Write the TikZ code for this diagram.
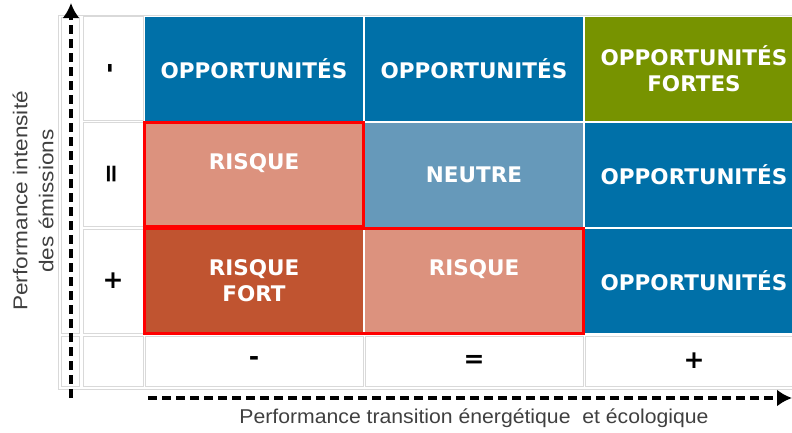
\documentclass[tikz,border=0pt]{standalone}
\usepackage{fontspec}
\setmainfont{Liberation Sans}
\newfontfamily\cellfont{DejaVu Sans}
\usetikzlibrary{arrows.meta}

\definecolor{bleuopp}{RGB}{0,112,168}
\definecolor{vertopp}{RGB}{119,147,0}
\definecolor{saumon}{RGB}{220,146,126}
\definecolor{rouille}{RGB}{192,84,48}
\definecolor{neutre}{RGB}{102,153,186}
\definecolor{grisaxe}{RGB}{64,64,64}

\begin{document}
\begin{tikzpicture}[x=1pt,y=-1pt,
  case/.style={minimum width=218pt, minimum height=104pt, inner sep=0pt, text=white,
    align=center, font=\cellfont\bfseries\fontsize{21.5}{26}\selectfont},
  grille/.style={draw=gray!30, line width=0.8pt, fill=white, inner sep=0pt,
    font=\cellfont\bfseries\fontsize{25}{26}\selectfont},
  axe/.style={line width=3.6pt, draw=black, dash pattern=on 9pt off 5pt,
    -{Latex[length=15pt,width=17pt]}},
  cadre/.style={draw=red, line width=3pt}]

\useasboundingbox (0,0) rectangle (792,432);
\clip (0,0) rectangle (792,432);

\draw[gray!30, line width=0.8pt] (58,15) rectangle (800,389); % cadre du tableau

% colonne de l'axe et libelles des lignes
\node[grille, minimum width=18pt, minimum height=316pt] (colaxe) at (70,175) {};
\node[grille, minimum width=18pt, minimum height=50pt] (coinaxe) at (70,361) {};
\node[grille, minimum width=60pt, minimum height=104pt] (lmoins) at (113,68.5) {\rotatebox{90}{-}};
\node[grille, minimum width=60pt, minimum height=104pt] (legal) at (113,174.5) {\rotatebox{90}{=}};
\node[grille, minimum width=60pt, minimum height=104pt] (lplus) at (113,281) {+};
\node[grille, minimum width=60pt, minimum height=50pt] (coin) at (113,361) {};

% les cases
\node[case, fill=bleuopp] (opp11) at (254,68.5) {OPPORTUNITÉS};
\node[case, fill=bleuopp] (opp12) at (474,68.5) {OPPORTUNITÉS};
\node[case, fill=vertopp] (oppfortes) at (694,68.5) {OPPORTUNITÉS\\FORTES};
\node[case, fill=saumon] (risque2) at (254,174.5) {RISQUE\\\mbox{}};
\node[case, fill=neutre] (neutre) at (474,174.5) {NEUTRE};
\node[case, fill=bleuopp] (opp23) at (694,174.5) {OPPORTUNITÉS};
\node[case, fill=rouille] (risquefort) at (254,281) {RISQUE\\FORT};
\node[case, fill=saumon] (risque3) at (474,281) {RISQUE\\\mbox{}};
\node[case, fill=bleuopp] (opp33) at (694,281) {OPPORTUNITÉS};

\draw[cadre] (risque2.north west) rectangle (risque2.south east);
\draw[cadre] (risquefort.north west) rectangle (risque3.south east);

% libelles des colonnes
\node[grille, minimum width=218pt, minimum height=50pt] (cmoins) at (254,361) {-};
\node[grille, minimum width=218pt, minimum height=50pt] (cegal) at (474,361) {=};
\node[grille, minimum width=218pt, minimum height=50pt] (cplus) at (694,361) {+};

% les axes
\coordinate (yorig) at (71,398);
\coordinate (ytop) at (71,3);
\coordinate (xorig) at (148,398);
\coordinate (xfin) at (792,398);
\draw[axe] (yorig) -- (ytop);
\draw[axe] (xorig) -- (xfin);

\node[rotate=90, xscale=1.13, align=center, text=grisaxe, font=\fontsize{20}{26}\selectfont] (ylabel) at (33,201)
  {Performance intensité\\des émissions};
\node[xscale=1.06, text=grisaxe, font=\fontsize{20}{26}\selectfont] (xlabel) at (474,418)
  {Performance transition énergétique~ et écologique};
\end{tikzpicture}
\end{document}
